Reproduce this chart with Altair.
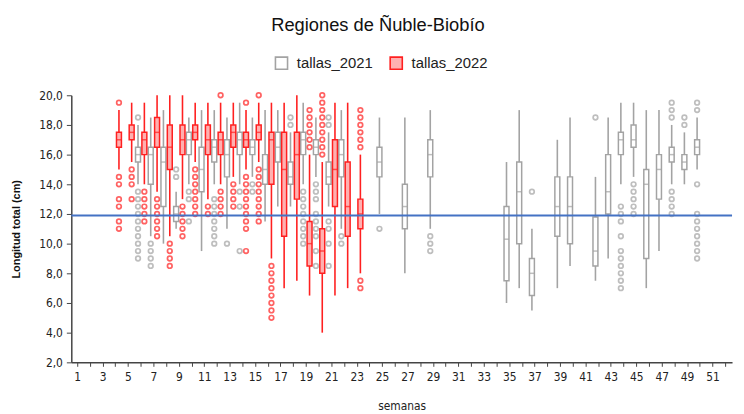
import altair as alt
import pandas as pd

# ---------------- data ----------------
years = ["tallas_2021", "tallas_2022"]
all_weeks = list(range(1, 53))
threshold = 11.9

# 2022 (red)
weeks_2022 = list(range(4, 24))
lo_2022 = [15.0, 15.5, 14.0, 13.5, 10.5, 13.0, 15.5, 13.0, 14.0, 14.5, 15.0, 15.5, 9.0, 7.0, 7.5, 6.5, 4.0, 6.5, 7.0, 8.0]
q1_2022 = [16.5, 17.0, 16.0, 16.5, 15.0, 16.0, 17.0, 16.0, 16.0, 16.5, 16.5, 17.0, 14.0, 10.5, 13.0, 8.5, 8.0, 12.5, 10.5, 11.0]
med_2022 = [17.0, 17.5, 17.0, 17.5, 16.5, 17.0, 17.5, 17.0, 17.0, 17.5, 17.0, 17.5, 17.0, 15.0, 16.0, 10.0, 9.5, 15.0, 12.5, 12.0]
q3_2022 = [17.5, 18.0, 17.5, 18.5, 18.0, 18.0, 18.0, 18.0, 17.5, 18.0, 17.5, 18.0, 17.5, 17.5, 17.5, 11.5, 11.0, 17.0, 15.5, 13.0]
hi_2022 = [19.0, 19.5, 19.5, 20.0, 20.0, 20.0, 19.5, 19.5, 19.5, 19.5, 19.0, 19.5, 19.5, 19.5, 20.0, 16.0, 15.5, 19.5, 19.5, 16.0]
out_2022 = {
    4: [19.5, 14.5, 14.0, 13.0, 12.5, 11.5, 11.0],
    5: [15.0, 14.5, 14.0, 13.0],
    6: [13.5, 13.0, 12.5, 12.0, 11.5],
    7: [13.0, 12.5, 12.0, 11.5, 11.0, 10.5],
    8: [10.0, 9.5, 9.0, 8.5],
    9: [12.5, 12.0, 11.5, 11.0, 10.5],
    10: [15.0, 14.5, 14.0, 13.5, 13.0, 12.5, 12.0],
    11: [12.5, 12.0],
    12: [20.0, 13.5, 13.0, 12.5, 12.0],
    13: [14.0, 13.5, 13.0, 12.5],
    14: [19.5, 14.5, 14.0, 13.5, 13.0, 12.5, 12.0, 11.5, 11.0, 9.5],
    15: [20.0, 15.0, 14.5, 14.0, 13.5, 13.0, 12.5, 12.0, 11.5],
    16: [8.5, 8.0, 7.5, 7.0, 6.5, 6.0, 5.5, 5.0],
    19: [19.0, 18.5, 18.0, 17.5, 17.0, 16.5],
    20: [20.0, 19.5, 19.0, 18.5, 18.0, 17.5, 17.0, 16.5, 16.0],
    23: [19.0, 18.5, 18.0, 17.5, 17.0, 16.5, 7.5, 7.0],
}

# 2021 (grey)
weeks_2021 = [6, 7, 8, 9, 10, 11, 12, 13, 14, 15, 16, 17, 18, 19, 20, 21, 22,
              25, 27, 29, 35, 36, 37, 39, 40, 42, 43, 44, 45, 46, 47, 48, 49, 50]
lo_2021 = [14.0, 10.5, 10.0, 11.0, 14.0, 9.5, 14.0, 11.0, 14.0, 14.5, 11.5, 12.5, 12.5, 14.0, 14.5, 12.5, 11.0,
           12.0, 8.0, 11.0, 6.0, 7.0, 5.5, 7.0, 8.5, 7.5, 9.0, 14.0, 14.5, 7.0, 9.5, 14.0, 14.0, 15.0]
q1_2021 = [15.5, 14.0, 12.5, 11.5, 16.0, 13.5, 15.5, 14.5, 16.0, 16.0, 14.0, 15.5, 14.0, 16.0, 16.0, 14.0, 14.5,
           14.5, 11.0, 14.5, 7.5, 10.0, 6.5, 10.5, 10.0, 8.5, 12.0, 16.0, 16.5, 9.0, 13.0, 15.5, 15.0, 16.0]
med_2021 = [16.0, 16.0, 15.5, 12.0, 17.0, 15.0, 16.5, 16.0, 17.0, 16.5, 15.0, 16.5, 14.5, 17.0, 16.5, 14.5, 16.0,
            15.5, 12.5, 16.0, 10.3, 13.5, 8.0, 12.5, 12.5, 9.5, 13.5, 17.0, 17.0, 14.0, 15.0, 16.0, 15.5, 16.5]
q3_2021 = [16.5, 16.5, 16.5, 12.5, 17.5, 16.5, 17.0, 17.0, 17.5, 17.0, 16.0, 17.5, 15.5, 17.5, 17.0, 15.5, 17.0,
           16.5, 14.0, 17.0, 12.5, 15.5, 9.0, 14.5, 14.5, 11.8, 16.0, 17.5, 18.0, 15.0, 16.0, 16.5, 16.0, 17.0]
hi_2021 = [18.0, 18.5, 19.0, 13.5, 18.5, 19.0, 19.0, 18.5, 19.5, 18.5, 19.0, 19.0, 17.5, 19.5, 18.5, 17.5, 19.0,
           18.5, 18.5, 19.0, 15.5, 19.0, 11.0, 17.0, 18.5, 14.5, 18.5, 19.5, 19.5, 19.0, 19.0, 18.0, 17.5, 18.5]
out_2021 = {
    6: [18.5, 13.5, 13.0, 12.5, 12.0, 11.5, 11.0, 10.5, 10.0, 9.5, 9.0],
    7: [10.0, 9.5, 9.0, 8.5],
    9: [15.0, 14.5],
    10: [13.5, 13.0, 11.5],
    12: [13.0, 12.5, 12.0, 11.5, 11.0, 10.5, 10.0],
    13: [10.0],
    14: [13.5, 12.5, 9.5],
    15: [14.0, 13.5],
    18: [18.5, 18.0],
    19: [13.5, 13.0, 12.5, 12.0, 11.5, 11.0, 10.5, 10.0],
    20: [14.0, 13.5, 13.0, 12.0, 11.5, 11.0, 10.5, 9.5, 8.5],
    21: [18.5, 18.0, 11.5, 11.0, 10.0, 8.5],
    22: [10.5, 10.0],
    25: [11.0],
    29: [10.5, 10.0, 9.5],
    37: [13.5],
    42: [18.5],
    44: [12.5, 12.0, 11.5, 10.5, 9.5, 9.0, 8.5, 8.0, 7.5, 7.0],
    45: [14.0, 13.5, 13.0, 12.5, 12.0],
    48: [19.5, 19.0, 18.5, 13.5, 13.0, 12.5, 12.0],
    49: [18.5, 18.0],
    50: [19.5, 19.0, 14.0, 12.0, 11.5, 11.0, 10.5, 10.0, 9.5, 9.0],
}

# ---------------- tables ----------------
box_rows = []
for yr, wk, lo, q1, md, q3, hi in [("tallas_2021", weeks_2021, lo_2021, q1_2021, med_2021, q3_2021, hi_2021),
                                   ("tallas_2022", weeks_2022, lo_2022, q1_2022, med_2022, q3_2022, hi_2022)]:
    for i, w in enumerate(wk):
        box_rows.append({"year": yr, "week": w, "lo": lo[i], "q1": q1[i], "med": md[i], "q3": q3[i], "hi": hi[i]})
box_df = pd.DataFrame(box_rows)

out_rows = []
for yr, d in [("tallas_2021", out_2021), ("tallas_2022", out_2022)]:
    for w, vals in d.items():
        for v in vals:
            out_rows.append({"year": yr, "week": w, "value": v})
out_df = pd.DataFrame(out_rows)

thr_df = pd.DataFrame({"y": [threshold]})

GREY = "#a3a3a3"
RED = "#ff2020"
PINK = "#ffb0b0"
FONT = "Liberation Sans"
NARROW = "Liberation Sans Narrow, DejaVu Sans Condensed, Liberation Sans"

x_axis = alt.Axis(
    title="semanas",
    labelExpr="datum.value % 2 == 1 ? datum.label : ''",
    labelAngle=0,
    labelFont=NARROW,
    labelFontSize=12,
    labelColor="#222",
    labelPadding=5,
    labelOverlap=False,
    tickSize=4,
    tickColor="#444",
    domainColor="#444",
    domainWidth=1.5,
    titleFont=NARROW,
    titleFontSize=12,
    titleFontWeight="normal",
    titleColor="#222",
    titleY=44,
    titleBaseline="middle",
    grid=False,
)
x_enc = alt.X("week:O", scale=alt.Scale(domain=all_weeks, paddingInner=0, paddingOuter=0), axis=x_axis)
xo_enc = alt.XOffset("year:N", scale=alt.Scale(domain=years, paddingInner=0, paddingOuter=0))
color_enc = alt.Color("year:N", scale=alt.Scale(domain=years, range=[GREY, RED]), legend=None)

y_axis = alt.Axis(
    title="Longitud total (cm)",
    values=list(range(2, 21, 2)),
    labelExpr="replace(format(datum.value, '.1f'), '.', ',')",
    labelOverlap=False,
    labelFont=NARROW,
    labelFontSize=12,
    labelColor="#222",
    labelPadding=4,
    tickSize=5,
    tickColor="#444",
    domainColor="#444",
    domainWidth=1.5,
    titleFont=FONT,
    titleFontSize=11,
    titleFontWeight="bold",
    titleColor="#111",
    titleX=-55,
    titleY=135,
    titleAlign="center",
    titleBaseline="middle",
    grid=False,
)
y_scale = alt.Scale(domain=[2, 20], nice=False, zero=False)


def y_of(field):
    return alt.Y(field, scale=y_scale, axis=y_axis, title="Longitud total (cm)")


legend_def = alt.Legend(
    title=None,
    orient="none",
    legendX=205,
    legendY=-40,
    direction="horizontal",
    symbolType="square",
    symbolSize=150,
    symbolStrokeWidth=1.6,
    labelFont=FONT,
    labelFontSize=15,
    labelColor="#222",
    labelOffset=8,
    columnPadding=14,
)

base = alt.Chart(box_df)

boxes = base.mark_bar(size=5, strokeWidth=1.5).encode(
    x=x_enc,
    xOffset=xo_enc,
    y=y_of("q1:Q"),
    y2="q3:Q",
    fill=alt.Fill("year:N", scale=alt.Scale(domain=years, range=["white", PINK]), legend=legend_def),
    stroke=alt.Stroke("year:N", scale=alt.Scale(domain=years, range=[GREY, RED]), legend=legend_def),
)

whisk_lo = base.mark_rule(strokeWidth=1.6).encode(
    x=x_enc, xOffset=xo_enc, y=y_of("lo:Q"), y2="q1:Q", color=color_enc
)
whisk_hi = base.mark_rule(strokeWidth=1.6).encode(
    x=x_enc, xOffset=xo_enc, y=y_of("q3:Q"), y2="hi:Q", color=color_enc
)

medians = base.mark_tick(size=5, thickness=1.5).encode(
    x=x_enc, xOffset=xo_enc, y=y_of("med:Q"), color=color_enc
)

outliers = alt.Chart(out_df).mark_point(shape="circle", filled=False, size=22, strokeWidth=1.7).encode(
    x=x_enc, xOffset=xo_enc, y=y_of("value:Q"), color=color_enc
)

thr = alt.Chart(thr_df).mark_rule(color="#4472C4", strokeWidth=2).encode(y=y_of("y:Q"))

chart = alt.layer(boxes, whisk_lo, whisk_hi, medians, outliers, thr).properties(
    width=668,
    height=270,
    autosize=alt.AutoSizeParams(type="none"),
    padding={"left": 64, "top": 86, "right": 4, "bottom": 50},
    title=alt.TitleParams(
        "Regiones de Ñuble-Biobío",
        font=FONT,
        fontSize=18.5,
        fontWeight="normal",
        color="#111",
        anchor="middle",
        dx=-24,
        offset=21,
    ),
).configure_view(stroke=None)

chart.save("out.html", embed_options={"renderer": "svg", "actions": False})
